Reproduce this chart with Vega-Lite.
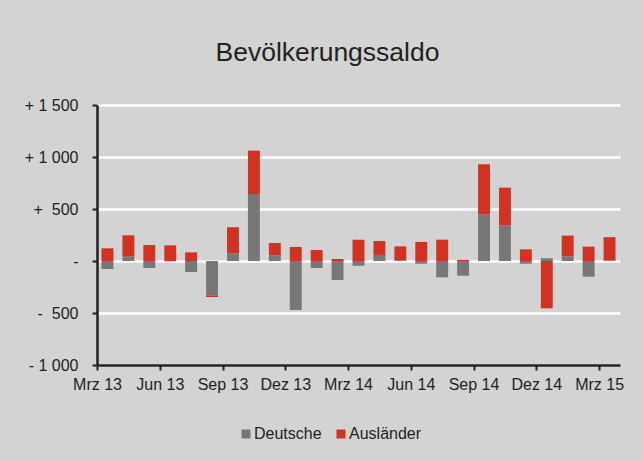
{
  "$schema": "https://vega.github.io/schema/vega-lite/v6.json",
  "autosize": "none",
  "width": 523,
  "height": 260,
  "padding": {"left": 97, "top": 105, "right": 23, "bottom": 96},
  "background": "#d2d3d2",
  "title": {
    "text": "Bevölkerungssaldo",
    "font": "Liberation Sans",
    "fontSize": 26.5,
    "fontWeight": "normal",
    "color": "#231f20",
    "anchor": "middle",
    "baseline": "alphabetic",
    "dx": -31,
    "offset": 10
  },
  "config": {
    "view": {"stroke": null, "fill": "#d2d3d2"},
    "font": "Liberation Sans"
  },
  "data": {
    "values": [
      {"monat": "Mrz 13", "gruppe": "Deutsche", "wert": -77}, {"monat": "Mrz 13", "gruppe": "Ausländer", "wert": 122},
      {"monat": "Apr 13", "gruppe": "Deutsche", "wert": 42}, {"monat": "Apr 13", "gruppe": "Ausländer", "wert": 205},
      {"monat": "Mai 13", "gruppe": "Deutsche", "wert": -67}, {"monat": "Mai 13", "gruppe": "Ausländer", "wert": 154},
      {"monat": "Jun 13", "gruppe": "Deutsche", "wert": -3}, {"monat": "Jun 13", "gruppe": "Ausländer", "wert": 150},
      {"monat": "Jul 13", "gruppe": "Deutsche", "wert": -106}, {"monat": "Jul 13", "gruppe": "Ausländer", "wert": 83},
      {"monat": "Aug 13", "gruppe": "Deutsche", "wert": -333}, {"monat": "Aug 13", "gruppe": "Ausländer", "wert": -13},
      {"monat": "Sep 13", "gruppe": "Deutsche", "wert": 74}, {"monat": "Sep 13", "gruppe": "Ausländer", "wert": 250},
      {"monat": "Okt 13", "gruppe": "Deutsche", "wert": 644}, {"monat": "Okt 13", "gruppe": "Ausländer", "wert": 417},
      {"monat": "Nov 13", "gruppe": "Deutsche", "wert": 54}, {"monat": "Nov 13", "gruppe": "Ausländer", "wert": 119},
      {"monat": "Dez 13", "gruppe": "Deutsche", "wert": -471}, {"monat": "Dez 13", "gruppe": "Ausländer", "wert": 135},
      {"monat": "Jan 14", "gruppe": "Deutsche", "wert": -67}, {"monat": "Jan 14", "gruppe": "Ausländer", "wert": 106},
      {"monat": "Feb 14", "gruppe": "Deutsche", "wert": -183}, {"monat": "Feb 14", "gruppe": "Ausländer", "wert": 19},
      {"monat": "Mrz 14", "gruppe": "Deutsche", "wert": -45}, {"monat": "Mrz 14", "gruppe": "Ausländer", "wert": 205},
      {"monat": "Apr 14", "gruppe": "Deutsche", "wert": 58}, {"monat": "Apr 14", "gruppe": "Ausländer", "wert": 135},
      {"monat": "Mai 14", "gruppe": "Deutsche", "wert": 8}, {"monat": "Mai 14", "gruppe": "Ausländer", "wert": 133},
      {"monat": "Jun 14", "gruppe": "Deutsche", "wert": -26}, {"monat": "Jun 14", "gruppe": "Ausländer", "wert": 183},
      {"monat": "Jul 14", "gruppe": "Deutsche", "wert": -157}, {"monat": "Jul 14", "gruppe": "Ausländer", "wert": 205},
      {"monat": "Aug 14", "gruppe": "Deutsche", "wert": -141}, {"monat": "Aug 14", "gruppe": "Ausländer", "wert": 10},
      {"monat": "Sep 14", "gruppe": "Deutsche", "wert": 449}, {"monat": "Sep 14", "gruppe": "Ausländer", "wert": 481},
      {"monat": "Okt 14", "gruppe": "Deutsche", "wert": 343}, {"monat": "Okt 14", "gruppe": "Ausländer", "wert": 362},
      {"monat": "Nov 14", "gruppe": "Deutsche", "wert": -26}, {"monat": "Nov 14", "gruppe": "Ausländer", "wert": 112},
      {"monat": "Dez 14", "gruppe": "Deutsche", "wert": 26}, {"monat": "Dez 14", "gruppe": "Ausländer", "wert": -455},
      {"monat": "Jan 15", "gruppe": "Deutsche", "wert": 45}, {"monat": "Jan 15", "gruppe": "Ausländer", "wert": 199},
      {"monat": "Feb 15", "gruppe": "Deutsche", "wert": -151}, {"monat": "Feb 15", "gruppe": "Ausländer", "wert": 138},
      {"monat": "Mrz 15", "gruppe": "Deutsche", "wert": 5}, {"monat": "Mrz 15", "gruppe": "Ausländer", "wert": 224}
    ]
  },
  "mark": {"type": "bar", "strokeWidth": 0},
  "encoding": {
    "x": {
      "field": "monat",
      "type": "ordinal",
      "sort": null,
      "scale": {"paddingInner": 0.43, "paddingOuter": 0.215},
      "axis": {
        "title": null,
        "values": ["Mrz 13", "Jun 13", "Sep 13", "Dez 13", "Mrz 14", "Jun 14", "Sep 14", "Dez 14", "Mrz 15"],
        "tickOffset": -10.46,
        "labelAngle": 0,
        "labelFont": "Liberation Sans",
        "labelFontSize": 16,
        "labelColor": "#231f20",
        "labelPadding": 6,
        "tickSize": 5,
        "tickWidth": 2,
        "tickColor": "#231f20",
        "domainColor": "#231f20",
        "domainWidth": 2.5,
        "grid": false
      }
    },
    "y": {
      "field": "wert",
      "type": "quantitative",
      "stack": "zero",
      "scale": {"domain": [-1000, 1500], "nice": false, "zero": false},
      "axis": {
        "title": null,
        "values": [-1000, -500, 0, 500, 1000, 1500],
        "labelExpr": "datum.value == 1500 ? '+ 1 500' : datum.value == 1000 ? '+ 1 000' : datum.value == 500 ? '+\u00a0\u00a0500' : datum.value == 0 ? '-' : datum.value == -500 ? '-\u00a0\u00a0500' : '- 1 000'",
        "labelFont": "Liberation Sans",
        "labelFontSize": 16,
        "labelColor": "#231f20",
        "labelPadding": 14,
        "tickSize": 5,
        "tickWidth": 2,
        "tickColor": "#231f20",
        "domainColor": "#231f20",
        "domainWidth": 2.5,
        "grid": true,
        "gridColor": "#ffffff",
        "gridWidth": 2.5,
        "gridOpacity": 1
      }
    },
    "color": {
      "field": "gruppe",
      "type": "nominal",
      "scale": {"domain": ["Deutsche", "Ausländer"], "range": ["#777777", "#d13222"]},
      "legend": {
        "title": null,
        "orient": "none",
        "direction": "horizontal",
        "legendX": 141,
        "legendY": 321,
        "symbolType": "square",
        "symbolSize": 81,
        "symbolStrokeWidth": 0,
        "symbolOpacity": 1,
        "labelFont": "Liberation Sans",
        "labelFontSize": 16,
        "labelColor": "#231f20",
        "labelOffset": 0,
        "columnPadding": 11,
        "padding": 0
      }
    },
    "order": {"field": "gruppe", "sort": "descending"}
  }
}
